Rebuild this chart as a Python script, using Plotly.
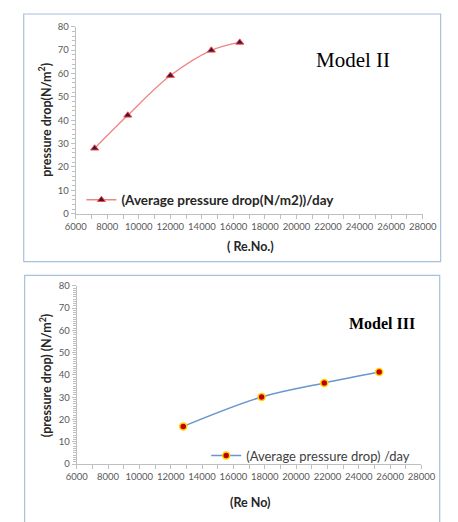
import plotly.graph_objects as go

# ---- data ----
re_model2 = [7200, 9300, 12000, 14600, 16400]
dp_model2 = [28.0, 42.1, 59.1, 69.9, 73.3]

re_model3 = [12800, 17800, 21800, 25300]
dp_model3 = [16.9, 30.1, 36.4, 41.3]

x_ticks = [6000, 8000, 10000, 12000, 14000, 16000, 18000, 20000, 22000, 24000, 26000, 28000]
x_tick_labels = [str(v) for v in x_ticks]
y_ticks = [0, 10, 20, 30, 40, 50, 60, 70, 80]
y_tick_labels = [str(v) for v in y_ticks]

W, H = 458, 522
OFF = 8  # page body margin


def px(x):
    return (x - OFF) / W


def py(y):
    return 1 - (y - OFF) / H


fig = go.Figure()

fig.add_trace(go.Scatter(
    x=re_model2, y=dp_model2, mode="lines+markers",
    name="(Average pressure drop(N/m2))/day",
    line=dict(color="#ee8585", width=1.3, shape="spline"),
    marker=dict(symbol="triangle-up", size=7, color="#35126b",
                line=dict(color="#ff4a1a", width=1)),
    xaxis="x", yaxis="y", legend="legend",
))

fig.add_trace(go.Scatter(
    x=re_model3, y=dp_model3, mode="lines+markers",
    name="(Average pressure drop) /day",
    line=dict(color="#6896d0", width=1.5, shape="spline"),
    marker=dict(symbol="circle", size=7, color="#c00000",
                line=dict(color="#ffd200", width=1.5)),
    xaxis="x2", yaxis="y2", legend="legend2",
))

tickfont = dict(family="Lato, Carlito, sans-serif", size=9.5, color="#595959")
axis_common = dict(
    showline=True, linecolor="#bfbfbf", linewidth=1, showgrid=False,
    zeroline=False, ticks="outside", ticklen=4, tickcolor="#bfbfbf",
    tickfont=tickfont,
)

fig.update_layout(
    width=W, height=H,
    margin=dict(l=0, r=0, t=0, b=0),
    paper_bgcolor="white", plot_bgcolor="white",
    xaxis=dict(domain=[px(68), px(435)], range=[6000, 28000], anchor="y",
               tickvals=x_ticks, ticktext=x_tick_labels,
               minor=dict(dtick=1000, ticks="outside", ticklen=4, tickcolor="#bfbfbf"),
               **axis_common),
    yaxis=dict(domain=[py(212), py(21)], range=[0, 80], anchor="x",
               tickvals=y_ticks, ticktext=y_tick_labels,
               minor=dict(dtick=2, ticks="outside", ticklen=3, tickcolor="#bfbfbf"),
               **axis_common),
    xaxis2=dict(domain=[px(69), px(433.7)], range=[6000, 28000], anchor="y2",
                tickvals=x_ticks, ticktext=x_tick_labels,
                minor=dict(dtick=1000, ticks="outside", ticklen=4, tickcolor="#bfbfbf"),
                **axis_common),
    yaxis2=dict(domain=[py(467.7), py(285.7)], range=[0, 80], anchor="x2",
                tickvals=y_ticks, ticktext=y_tick_labels,
                minor=dict(dtick=1, ticks="outside", ticklen=3, tickcolor="#bfbfbf"),
                **axis_common),
    legend=dict(x=px(74), y=py(198), xanchor="left", yanchor="middle",
                bgcolor="rgba(0,0,0,0)", itemwidth=30,
                font=dict(family="Lato, Carlito, sans-serif", size=13.5, color="#262626", weight="bold")),
    legend2=dict(x=px(206), y=py(459), xanchor="left", yanchor="middle",
                 bgcolor="rgba(0,0,0,0)", itemwidth=30,
                 font=dict(family="Lato, Carlito, sans-serif", size=13, color="#404040")),
    showlegend=True,
)

# chart frames
frame = dict(type="rect", xref="paper", yref="paper",
             line=dict(color="#a9c0dc", width=1.2), fillcolor="rgba(0,0,0,0)", layer="below")
fig.add_shape(x0=px(13), x1=px(454), y0=py(261), y1=py(8), **frame)
fig.add_shape(x0=px(14), x1=px(453), y0=py(540), y1=py(275), **frame)

title_font = dict(family="Lato, Carlito, sans-serif", size=12.5, color="#262626", weight="bold")
ann = [
    dict(text="pressure drop(N/m<sup>2</sup>)", x=px(35), y=py(116.5), textangle=-90, font=title_font),
    dict(text="(pressure drop) (N/m<sup>2</sup>)", x=px(36), y=py(377.5), textangle=-90, font=title_font),
    dict(text="( Re.No.)", x=px(253), y=py(246), font=title_font),
    dict(text="(Re No)", x=px(252), y=py(507), font=title_font),
    dict(text="Model II", x=px(361), y=py(55),
         font=dict(family="Liberation Serif, Times New Roman, serif", size=21, color="#000000")),
    dict(text="Model III", x=px(392), y=py(324),
         font=dict(family="Liberation Serif, Times New Roman, serif", size=16, color="#000000", weight="bold")),
]
for a in ann:
    fig.add_annotation(xref="paper", yref="paper", showarrow=False,
                       xanchor="center", yanchor="middle", **a)

fig.write_html("out.html")
